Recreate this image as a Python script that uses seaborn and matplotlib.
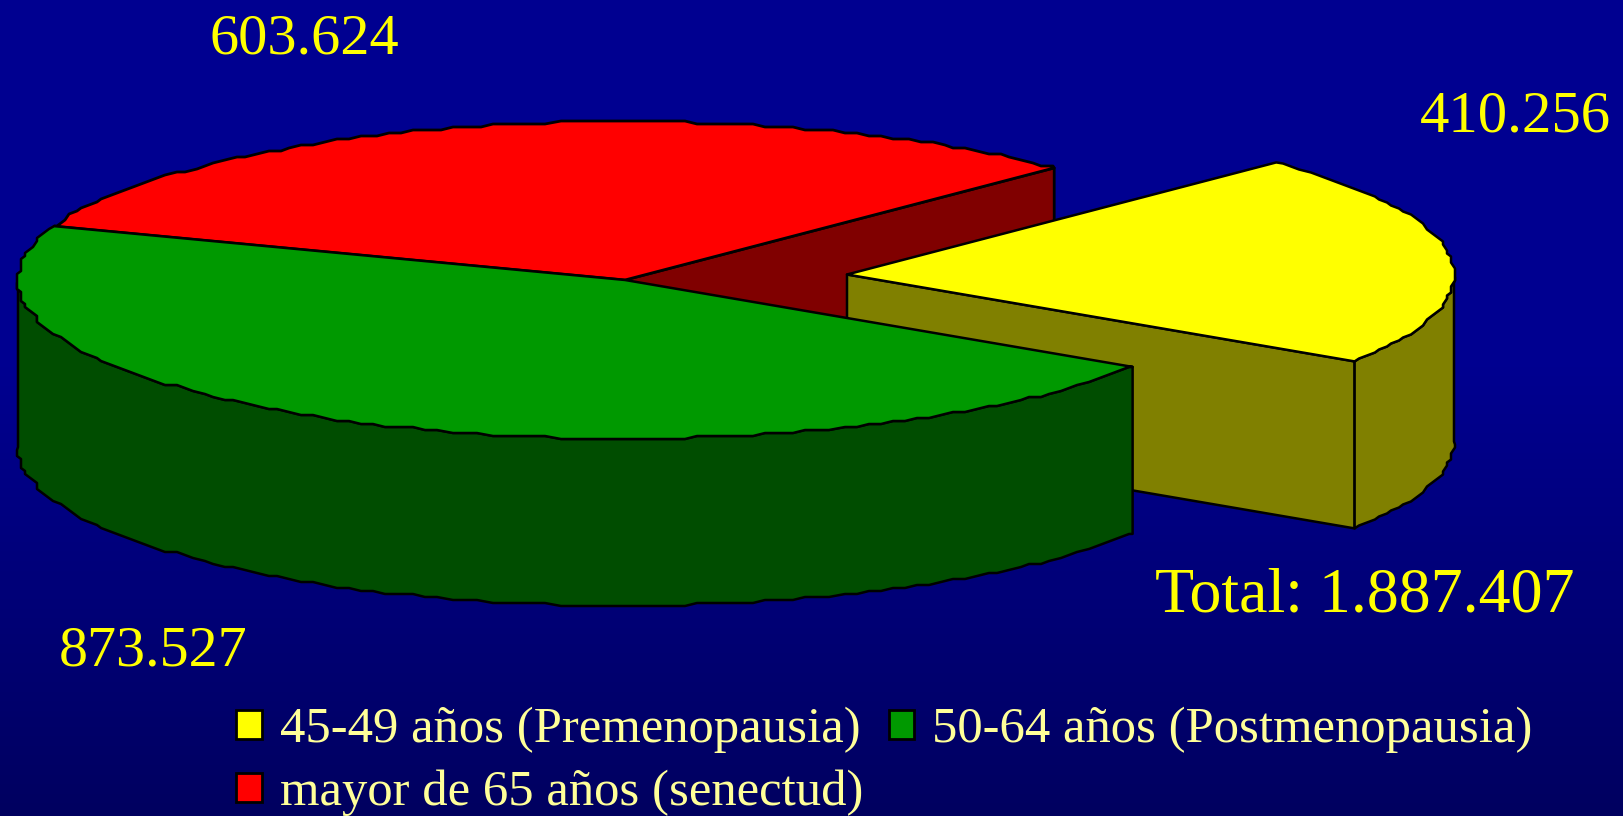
import numpy as np
import seaborn as sns
import matplotlib.pyplot as plt
from matplotlib.patches import Patch

# -------- data --------
groups = ['45-49 años (Premenopausia)', 'mayor de 65 años (senectud)', '50-64 años (Postmenopausia)']
values = [410256, 603624, 873527]
top_colors = ['#FFFF00', '#FF0000', '#009900']
side_colors = ['#808000', '#800000', '#004D00']
total_label = 'Total: 1.887.407'

# -------- geometry of the fake 3d pie, in pixels --------
cx, cy = 625, 280
rx, ry = 607, 158.5
depth = 167
explode = (222, -5.5)
start_angle = 45.0

sns.set_theme(style='white')
plt.rcParams['font.family'] = ['Liberation Serif', 'DejaVu Serif']

fig = plt.figure(figsize=(16.24, 8.16), dpi=100)
ax = fig.add_axes([0, 0, 1, 1])
ax.set_xlim(0, 1624)
ax.set_ylim(816, 0)
ax.axis('off')

# background gradient
grad = np.linspace(0, 1, 256).reshape(-1, 1)
bg = np.zeros((256, 1, 3))
bg[:, :, 2] = 0.565 - 0.19 * np.clip((grad - 0.45) / 0.55, 0, 1)
ax.imshow(bg, extent=[0, 1624, 816, 0], aspect='auto', zorder=0)


def arc(a1, a2, x0, y0):
    # fixed angle steps so the rim of the wall and of the top share vertices,
    # snapped to a coarse grid because the source is a low-res export
    step = 1.3
    inner = np.arange(np.ceil(a2 / step), np.floor(a1 / step) + 1)[::-1] * step
    inner = inner[(inner < a1) & (inner > a2)]
    t = np.radians(np.r_[a1, inner, a2])
    x = x0 + rx * np.cos(t)
    y = y0 - ry * np.sin(t)
    x[1:-1] = x0 + np.round((x[1:-1] - x0) / 4) * 4
    y[1:-1] = y0 + np.round((y[1:-1] - y0) / 3) * 3
    return x, y


def draw_slice(a1, a2, color, side, offset, z, cut=None, lw=1.8):
    x0 = cx + offset[0]
    y0 = cy + offset[1]
    x, y = arc(a1, a2, x0, y0)

    # only the cut face that looks at the viewer gets drawn
    if cut is not None:
        xe, ye = (x[0], y[0]) if cut == 'start' else (x[-1], y[-1])
        ax.fill([x0, xe, xe, x0], [y0, ye, ye + depth, y0 + depth],
                facecolor=side, edgecolor='black', lw=lw, zorder=z, joinstyle='round')

    # outer wall, only the front half of the rim shows
    lo, hi = min(a1, a2), max(a1, a2)
    for k in [0, -360]:
        w1, w2 = max(lo, 180 + k), min(hi, 360 + k)
        if w1 < w2:
            xw, yw = arc(w2, w1, x0, y0)
            ax.fill(np.r_[xw, xw[::-1]], np.r_[yw, yw[::-1] + depth],
                    facecolor=side, edgecolor='black', lw=lw, zorder=z + 0.1, joinstyle='round')

    ax.fill(np.r_[x0, x, x0], np.r_[y0, y, y0], facecolor=color,
            edgecolor='black', lw=lw, zorder=z + 0.2, joinstyle='round')


# angles come from the values, clockwise: yellow, green, red
angles = []
a = start_angle
for i in [0, 2, 1]:
    sweep = values[i] / sum(values) * 360
    angles.append((a, a - sweep, i))
    a -= sweep
ang = {i: (a1, a2) for a1, a2, i in angles}

draw_slice(*ang[1], top_colors[1], side_colors[1], (0, 0), 2, cut='end', lw=2)
draw_slice(*ang[0], top_colors[0], side_colors[0], explode, 3, cut='end')
draw_slice(*ang[2], top_colors[2], side_colors[2], (0, 0), 4)

# -------- labels --------
txt = dict(color='#FFFF00', ha='left', va='baseline', zorder=6)
fmt = lambda v: f'{v:,}'.replace(',', '.')
ax.text(210, 54, fmt(values[1]), fontsize=42, **txt)
ax.text(1420, 131, fmt(values[0]), fontsize=42.4, **txt)
ax.text(59, 665, fmt(values[2]), fontsize=41.7, **txt)
ax.text(1155, 611, total_label, fontsize=46, **txt)

handles = [Patch(facecolor=c, edgecolor='black', lw=2) for c in top_colors]
leg = ax.legend(handles, groups, ncol=2, frameon=False, fontsize=36.5,
                labelcolor='#FFFF99', loc='upper left', bbox_to_anchor=(0.1455, 0.134),
                handlelength=0.5, handleheight=0.5, handletextpad=0.36,
                columnspacing=0.5, labelspacing=0.325, borderpad=0, borderaxespad=0)
leg.set_zorder(6)

fig.savefig('out.png', dpi=100)
